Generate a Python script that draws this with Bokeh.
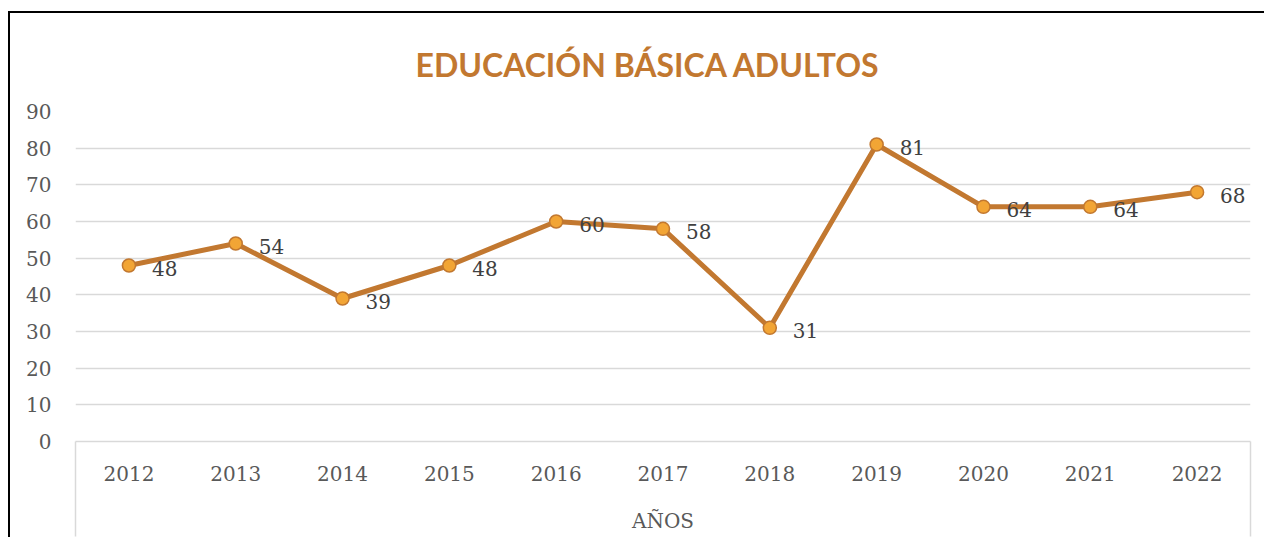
from bokeh.plotting import figure
from bokeh.models import Range1d, LinearAxis, FixedTicker, ColumnDataSource, Title
from bokeh.core.properties import value
from bokeh.embed import file_html
from bokeh.resources import INLINE

years = ["2012", "2013", "2014", "2015", "2016", "2017", "2018", "2019", "2020", "2021", "2022"]
values = [48, 54, 39, 48, 60, 58, 31, 81, 64, 64, 68]
y_ticks = [0, 10, 20, 30, 40, 50, 60, 70, 80, 90]
title_text = "EDUCACIÓN BÁSICA ADULTOS"
x_axis_title = "AÑOS"

LINE = "#C27830"
FILL = "#F2A535"
GRID = "#D9D9D9"
TICK_TXT = "#595959"
SERIF = "DejaVu Serif"

W, H = 1256, 526
n = len(years)
centers = [i + 0.5 for i in range(n)]  # category slot centres
source = ColumnDataSource(data=dict(x=centers, val=values, lab=[str(v) for v in values]))

p = figure(width=W, height=H,
           x_range=Range1d(0, n), y_range=Range1d(0, max(y_ticks)),
           output_backend="svg", toolbar_location=None, x_axis_location=None,
           min_border_left=65, min_border_right=16, min_border_top=98, min_border_bottom=98)

p.title = Title(text=title_text, align="left", offset=340, text_font="Lato",
                text_font_size="32px", text_font_style="bold", text_color=LINE, standoff=56)

# category axis: labels at slot centres, long minor ticks at the block edges
SEP_LEN = 95
xaxis = LinearAxis(ticker=FixedTicker(ticks=centers, minor_ticks=[0, n]),
                   major_label_overrides={c: y for c, y in zip(centers, years)})
xaxis.axis_line_color = GRID
xaxis.axis_line_width = 1.5
xaxis.major_tick_in = 0
xaxis.major_tick_out = 0
xaxis.major_tick_line_color = None
xaxis.minor_tick_in = 0
xaxis.minor_tick_out = SEP_LEN
xaxis.minor_tick_line_color = GRID
xaxis.minor_tick_line_width = 1.5
xaxis.major_label_standoff = 24 - SEP_LEN
xaxis.major_label_text_font = SERIF
xaxis.major_label_text_font_size = "20px"
xaxis.major_label_text_color = TICK_TXT
xaxis.axis_label = x_axis_title
xaxis.axis_label_text_font = SERIF
xaxis.axis_label_text_font_size = "20px"
xaxis.axis_label_text_font_style = "normal"
xaxis.axis_label_text_color = TICK_TXT
xaxis.axis_label_standoff = 25
p.add_layout(xaxis, "below")

yax = p.yaxis[0]
yax.ticker = FixedTicker(ticks=y_ticks)
yax.axis_line_color = None
yax.major_tick_line_color = None
yax.major_tick_in = 0
yax.major_tick_out = 0
yax.minor_tick_line_color = None
yax.major_label_standoff = 24
yax.major_label_text_font = SERIF
yax.major_label_text_font_size = "20px"
yax.major_label_text_color = TICK_TXT

p.xgrid.visible = False
p.ygrid.grid_line_color = GRID
p.ygrid.grid_line_width = 1.5
p.outline_line_color = None

p.line(x="x", y="val", source=source, line_color=LINE, line_width=5, line_join="round")
p.scatter(x="x", y="val", source=source, size=13, fill_color=FILL, line_color=LINE, line_width=1.5)
p.text(x="x", y="val", text="lab", source=source, x_offset=23, y_offset=3,
       text_baseline="middle", text_align="left", text_font=value(SERIF),
       text_font_size="20px", text_color="#404040")

p.styles = {"border-left": "2px solid black", "border-top": "2px solid black",
            "margin-left": "8px", "margin-top": "11px"}

open("out.html", "w").write(file_html(p, INLINE))
